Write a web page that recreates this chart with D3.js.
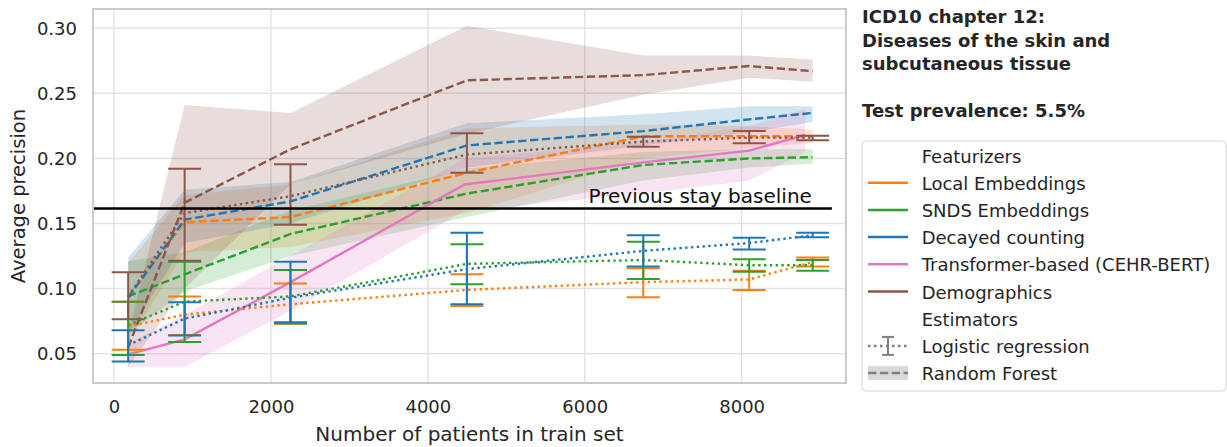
<!DOCTYPE html>
<html>
<head>
<meta charset="utf-8">
<script src="https://cdn.jsdelivr.net/npm/d3@7"></script>
<style>
  body { margin: 0; background: #fff; }
  text { font-family: "DejaVu Sans", sans-serif; fill: #262626; }
</style>
</head>
<body>
<svg id="chart"></svg>
<script>
// ---- data ----
var trainSizes = [180, 900, 2249, 4498, 6746, 8096, 8905];
var transformerSizes = [180, 900, 2249, 4470, 6746, 8096, 8810];

var featurizers = ["Local Embeddings", "SNDS Embeddings", "Decayed counting",
                   "Transformer-based (CEHR-BERT)", "Demographics"];
var featColors = ["#ff7f0e", "#2ca02c", "#1f77b4", "#e377c2", "#8c564b"];

// Random forest (dashed line + band)
var rfLocal     = [0.094, 0.151, 0.155, 0.189, 0.217, 0.217, 0.217];
var rfLocalLo   = [0.060, 0.128, 0.132, 0.158, 0.200, 0.208, 0.212];
var rfLocalHi   = [0.120, 0.172, 0.180, 0.223, 0.226, 0.225, 0.222];
var rfSnds      = [0.094, 0.111, 0.142, 0.173, 0.195, 0.200, 0.201];
var rfSndsLo    = [0.065, 0.098, 0.125, 0.155, 0.183, 0.193, 0.196];
var rfSndsHi    = [0.121, 0.128, 0.160, 0.192, 0.205, 0.207, 0.207];
var rfDecayed   = [0.093, 0.153, 0.167, 0.210, 0.221, 0.230, 0.235];
var rfDecayedLo = [0.065, 0.135, 0.150, 0.193, 0.210, 0.220, 0.228];
var rfDecayedHi = [0.124, 0.176, 0.182, 0.227, 0.234, 0.240, 0.240];
var rfDemo      = [0.055, 0.166, 0.207, 0.260, 0.264, 0.271, 0.267];
var rfDemoLo    = [0.040, 0.100, 0.180, 0.219, 0.249, 0.262, 0.259];
var rfDemoHi    = [0.065, 0.241, 0.235, 0.302, 0.279, 0.279, 0.276];

// Transformer (solid line + band)
var transformer   = [0.0495, 0.061, 0.105, 0.180, 0.197, 0.206, 0.218];
var transformerLo = [0.040, 0.040, 0.083, 0.160, 0.173, 0.183, 0.205];
var transformerHi = [0.058, 0.080, 0.125, 0.200, 0.212, 0.225, 0.238];

// Logistic regression (dotted line + error bars)
var lrLocal     = [0.071, 0.080, 0.088, 0.099, 0.105, 0.107, 0.1205];
var lrLocalLo   = [0.053, 0.0644, 0.073, 0.0867, 0.0933, 0.099, 0.117];
var lrLocalHi   = [0.090, 0.094, 0.104, 0.111, 0.1156, 0.1138, 0.124];
var lrSnds      = [0.072, 0.090, 0.094, 0.119, 0.122, 0.118, 0.118];
var lrSndsLo    = [0.049, 0.059, 0.0733, 0.1033, 0.1074, 0.113, 0.1138];
var lrSndsHi    = [0.090, 0.1207, 0.1143, 0.134, 0.136, 0.1225, 0.122];
var lrDecayed   = [0.0565, 0.077, 0.093, 0.115, 0.129, 0.135, 0.141];
var lrDecayedLo = [0.044, 0.064, 0.0741, 0.088, 0.117, 0.130, 0.1394];
var lrDecayedHi = [0.068, 0.0895, 0.1207, 0.143, 0.141, 0.139, 0.143];
var lrDemo      = [0.094, 0.158, 0.171, 0.203, 0.213, 0.216, 0.216];
var lrDemoLo    = [0.0765, 0.1215, 0.149, 0.189, 0.209, 0.2117, 0.214];
var lrDemoHi    = [0.1125, 0.192, 0.1955, 0.2193, 0.2167, 0.221, 0.2175];

var baselineValue = 0.1616;
var baselineExtent = [-268, 9150];
var baselineLabel = "Previous stay baseline";

var xTicks = [0, 2000, 4000, 6000, 8000];
var yTicks = [0.05, 0.10, 0.15, 0.20, 0.25, 0.30];

var titleLines = ["ICD10 chapter 12:", "Diseases of the skin and", "subcutaneous tissue", "", "Test prevalence: 5.5%"];
var estimators = ["Logistic regression", "Random Forest"];

// ---- layout ----
var width = 1227, height = 447;
var plot = { left: 93, right: 846, top: 9, bottom: 383 };

var svg = d3.select("#chart").attr("width", width).attr("height", height);

var xScale = d3.scaleLinear().domain([-268, 9330]).range([plot.left, plot.right]);
var yScale = d3.scaleLinear().domain([0.0275, 0.3148]).range([plot.bottom, plot.top]);

function zip(xs, ys) { return xs.map(function(x, i) { return [x, ys[i]]; }); }

// grid
svg.append("g").selectAll("line").data(xTicks).enter().append("line")
    .attr("x1", function(d) { return xScale(d); }).attr("x2", function(d) { return xScale(d); })
    .attr("y1", plot.top).attr("y2", plot.bottom)
    .attr("stroke", "#e3e3e3").attr("stroke-width", 1.5);
svg.append("g").selectAll("line").data(yTicks).enter().append("line")
    .attr("y1", function(d) { return yScale(d); }).attr("y2", function(d) { return yScale(d); })
    .attr("x1", plot.left).attr("x2", plot.right)
    .attr("stroke", "#e3e3e3").attr("stroke-width", 1.5);

svg.append("clipPath").attr("id", "clip").append("rect")
    .attr("x", plot.left).attr("y", plot.top)
    .attr("width", plot.right - plot.left).attr("height", plot.bottom - plot.top);

var dataG = svg.append("g").attr("clip-path", "url(#clip)");

var line = d3.line().x(function(d) { return xScale(d[0]); }).y(function(d) { return yScale(d[1]); });
var area = d3.area()
    .x(function(d) { return xScale(d.x); })
    .y0(function(d) { return yScale(d.lo); })
    .y1(function(d) { return yScale(d.hi); });

var bandSeries = [
  { xs: trainSizes, mean: rfLocal, lo: rfLocalLo, hi: rfLocalHi, color: featColors[0], dash: "8.3,3.6" },
  { xs: trainSizes, mean: rfSnds, lo: rfSndsLo, hi: rfSndsHi, color: featColors[1], dash: "8.3,3.6" },
  { xs: trainSizes, mean: rfDecayed, lo: rfDecayedLo, hi: rfDecayedHi, color: featColors[2], dash: "8.3,3.6" },
  { xs: transformerSizes, mean: transformer, lo: transformerLo, hi: transformerHi, color: featColors[3], dash: null },
  { xs: trainSizes, mean: rfDemo, lo: rfDemoLo, hi: rfDemoHi, color: featColors[4], dash: "8.3,3.6" }
];

var lrSeries = [
  { mean: lrLocal, lo: lrLocalLo, hi: lrLocalHi, color: featColors[0] },
  { mean: lrSnds, lo: lrSndsLo, hi: lrSndsHi, color: featColors[1] },
  { mean: lrDecayed, lo: lrDecayedLo, hi: lrDecayedHi, color: featColors[2] },
  { mean: lrDemo, lo: lrDemoLo, hi: lrDemoHi, color: featColors[4] }
];

// bands
bandSeries.forEach(function(s) {
  var pts = s.xs.map(function(x, i) { return { x: x, lo: s.lo[i], hi: s.hi[i] }; });
  dataG.append("path").attr("d", area(pts))
      .attr("fill", s.color).attr("fill-opacity", 0.2).attr("stroke", "none");
});

// random forest / transformer lines
bandSeries.forEach(function(s) {
  dataG.append("path").attr("d", line(zip(s.xs, s.mean)))
      .attr("fill", "none").attr("stroke", s.color).attr("stroke-width", 2.4)
      .attr("stroke-dasharray", s.dash);
});

// logistic regression lines + error bars
var capHalf = 16.5;
lrSeries.forEach(function(s) {
  dataG.append("path").attr("d", line(zip(trainSizes, s.mean)))
      .attr("fill", "none").attr("stroke", s.color).attr("stroke-width", 2.4)
      .attr("stroke-dasharray", "2.4,3.4");
  var g = dataG.append("g").attr("stroke", s.color).attr("stroke-width", 2);
  trainSizes.forEach(function(x, i) {
    var cx = xScale(x);
    g.append("line").attr("x1", cx).attr("x2", cx)
        .attr("y1", yScale(s.lo[i])).attr("y2", yScale(s.hi[i]));
    [s.lo[i], s.hi[i]].forEach(function(v) {
      g.append("line").attr("x1", cx - capHalf).attr("x2", cx + capHalf)
          .attr("y1", yScale(v)).attr("y2", yScale(v));
    });
  });
});

// baseline
svg.append("line")
    .attr("x1", xScale(baselineExtent[0])).attr("x2", xScale(baselineExtent[1]))
    .attr("y1", yScale(baselineValue)).attr("y2", yScale(baselineValue))
    .attr("stroke", "#000").attr("stroke-width", 2.5);
svg.append("text")
    .attr("x", xScale(baselineExtent[1]) - 20).attr("y", yScale(baselineValue) - 5)
    .attr("text-anchor", "end").attr("font-size", "20px").style("fill", "#111")
    .text(baselineLabel);

// frame
svg.append("rect")
    .attr("x", plot.left).attr("y", plot.top)
    .attr("width", plot.right - plot.left).attr("height", plot.bottom - plot.top)
    .attr("fill", "none").attr("stroke", "#cccccc").attr("stroke-width", 2);

// axes
var xAxis = d3.axisBottom(xScale).tickValues(xTicks).tickSize(0).tickPadding(17)
    .tickFormat(d3.format("d"));
var gx = svg.append("g").attr("transform", "translate(0," + plot.bottom + ")").call(xAxis);
var yAxis = d3.axisLeft(yScale).tickValues(yTicks).tickSize(0).tickPadding(16)
    .tickFormat(d3.format(".2f"));
var gy = svg.append("g").attr("transform", "translate(" + plot.left + ",0)").call(yAxis);
[gx, gy].forEach(function(g) {
  g.select(".domain").remove();
  g.selectAll("text").attr("font-size", "18px").attr("font-family", "DejaVu Sans").style("fill", "#262626");
});

svg.append("text")
    .attr("x", (plot.left + plot.right) / 2).attr("y", 441)
    .attr("text-anchor", "middle").attr("font-size", "20px")
    .text("Number of patients in train set");
svg.append("text")
    .attr("transform", "translate(25," + (plot.top + plot.bottom) / 2 + ") rotate(-90)")
    .attr("text-anchor", "middle").attr("font-size", "19.5px")
    .text("Average precision");

// title
var title = svg.append("text").attr("x", 862).attr("y", 23)
    .attr("font-size", "18px").attr("font-weight", "bold");
titleLines.forEach(function(t, i) {
  title.append("tspan").attr("x", 862).attr("y", 23 + i * 23.5).text(t);
});

// legend
var leg = svg.append("g");
leg.append("rect").attr("x", 862).attr("y", 141).attr("width", 364).attr("height", 250)
    .attr("rx", 4).attr("fill", "#fff").attr("stroke", "#d6d6d6").attr("stroke-width", 1);

var rowBase = 162.5, rowStep = 27.2;
var textX = 921.7, hx1 = 868, hx2 = 908;
var rows = ["Featurizers"].concat(featurizers).concat(["Estimators"]).concat(estimators);
rows.forEach(function(t, i) {
  leg.append("text").attr("x", textX).attr("y", rowBase + i * rowStep)
      .attr("font-size", "18px").text(t);
});
featurizers.forEach(function(f, i) {
  var y = rowBase + (i + 1) * rowStep - 7;
  leg.append("line").attr("x1", hx1).attr("x2", hx2).attr("y1", y).attr("y2", y)
      .attr("stroke", featColors[i]).attr("stroke-width", 2.5);
});
// logistic regression handle
var lrY = rowBase + 7 * rowStep - 7;
leg.append("line").attr("x1", hx1).attr("x2", hx2).attr("y1", lrY).attr("y2", lrY)
    .attr("stroke", "#808080").attr("stroke-width", 2.5).attr("stroke-dasharray", "2.5,3.5");
var lrErr = leg.append("g").attr("stroke", "#808080").attr("stroke-width", 2);
lrErr.append("line").attr("x1", 888).attr("x2", 888).attr("y1", lrY - 9).attr("y2", lrY + 9);
lrErr.append("line").attr("x1", 882).attr("x2", 894).attr("y1", lrY - 9).attr("y2", lrY - 9);
lrErr.append("line").attr("x1", 882).attr("x2", 894).attr("y1", lrY + 9).attr("y2", lrY + 9);
// random forest handle
var rfY = rowBase + 8 * rowStep - 7;
leg.append("rect").attr("x", hx1).attr("y", rfY - 7).attr("width", hx2 - hx1).attr("height", 14)
    .attr("fill", "#808080").attr("fill-opacity", 0.3);
leg.append("line").attr("x1", hx1).attr("x2", hx2).attr("y1", rfY).attr("y2", rfY)
    .attr("stroke", "#808080").attr("stroke-width", 2.5).attr("stroke-dasharray", "8.3,3.6");
</script>
</body>
</html>
